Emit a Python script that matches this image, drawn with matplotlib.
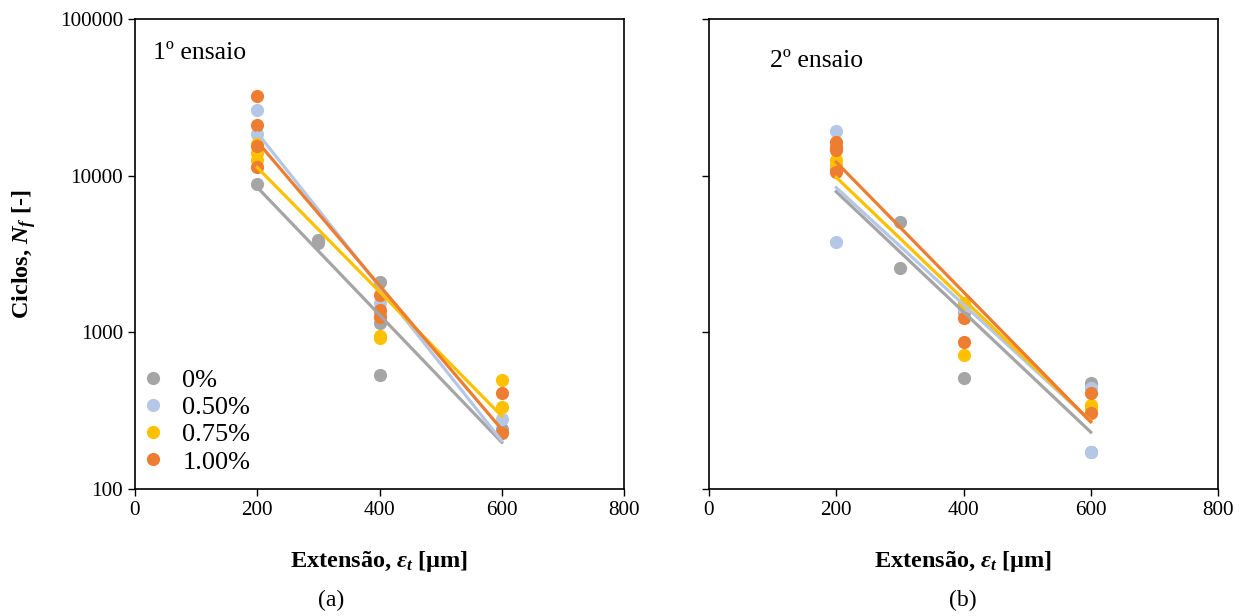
import numpy as np
import matplotlib
matplotlib.use('Agg')
from matplotlib import pyplot as plt
from matplotlib.ticker import FuncFormatter

plt.rcParams['font.family'] = 'Liberation Serif'
plt.rcParams['mathtext.fontset'] = 'custom'
plt.rcParams['mathtext.rm'] = 'Liberation Serif:bold'
plt.rcParams['mathtext.it'] = 'Liberation Serif:italic:bold'
plt.rcParams['mathtext.bf'] = 'Liberation Serif:bold'

labels = ['0%', '0.50%', '0.75%', '1.00%']
colors = ['#A5A5A5', '#B4C7E7', '#FFC000', '#ED7D31']

# 1º ensaio
a_x0 = [200, 300, 300, 400, 400, 400, 600]
a_y0 = [8860, 3890, 3700, 2100, 1150, 535, 240]
a_x1 = [200, 200, 400, 400, 600]
a_y1 = [26300, 18500, 1540, 1300, 280]
a_x2 = [200, 200, 200, 400, 400, 600, 600]
a_y2 = [16000, 14000, 12500, 950, 920, 497, 334]
a_x3 = [200, 200, 200, 200, 400, 400, 400, 600, 600]
a_y3 = [32300, 21100, 15500, 11400, 1730, 1390, 1250, 410, 228]

# 2º ensaio
b_x0 = [200, 300, 300, 400, 400, 600, 600]
b_y0 = [11000, 5070, 2580, 1350, 512, 475, 173]
b_x1 = [200, 200, 400, 600, 600]
b_y1 = [19300, 3780, 1400, 440, 173]
b_x2 = [200, 200, 400, 400, 600, 600]
b_y2 = [12600, 11700, 1540, 718, 344, 330]
b_x3 = [200, 200, 200, 200, 400, 400, 600, 600]
b_y3 = [16400, 15200, 14600, 10600, 1240, 870, 410, 306]

series_a = [(a_x0, a_y0), (a_x1, a_y1), (a_x2, a_y2), (a_x3, a_y3)]
series_b = [(b_x0, b_y0), (b_x1, b_y1), (b_x2, b_y2), (b_x3, b_y3)]

fig = plt.figure(figsize=(12.59, 6.16), dpi=100)
ax1 = fig.add_axes([135/1259, 1-489/616, (624-135)/1259, (489-19)/616])
ax2 = fig.add_axes([709/1259, 1-489/616, (1218-709)/1259, (489-19)/616])


def draw(ax, series, title, tx, ty):
    for (x, y), c, lab in zip(series, colors, labels):
        x = np.array(x, dtype=float)
        y = np.array(y, dtype=float)
        ax.plot(x, y, 'o', color=c, ms=9.5, mec='none', label=lab, zorder=3)
        # exponential trendline (Excel style)
        b, a = np.polyfit(x, np.log(y), 1)
        xs = np.array([x.min(), x.max()])
        ax.plot(xs, np.exp(a + b * xs), '-', color=c, lw=2.3, zorder=4)
    ax.set_yscale('log')
    ax.set_xlim(0, 800)
    ax.set_ylim(100, 100000)
    ax.set_xticks([0, 200, 400, 600, 800])
    ax.set_yticks([100, 1000, 10000, 100000])
    ax.minorticks_off()
    ax.yaxis.set_major_formatter(FuncFormatter(lambda v, p: '%d' % v))
    ax.tick_params(direction='out', length=5, width=1, labelsize=15.2, colors='black')
    for s in ax.spines.values():
        s.set_linewidth(1.2)
        s.set_color('black')
    ax.text(tx, ty, title, transform=ax.transAxes, fontsize=18.5, va='center')
    ax.set_xlabel(r'Extensão, $ε_t$ [µm]', fontsize=17.5, fontweight='bold', labelpad=21)


draw(ax1, series_a, '1º ensaio', 18/489, 1-(53-19)/470)
draw(ax2, series_b, '2º ensaio', 61/509, 1-(61-19)/470)
ax2.tick_params(labelleft=False)
ax1.set_ylabel(r'Ciclos, $N_f$ [-]', fontsize=17.5, fontweight='bold', labelpad=16)

ax1.legend(loc='upper left', bbox_to_anchor=(0.005, 0.256), frameon=False, fontsize=19,
           borderpad=0, borderaxespad=0, handletextpad=0.55, labelspacing=0.14,
           handlelength=1.15)

fig.text(331/1259, 1-600/616, '(a)', ha='center', va='center', fontsize=17)
fig.text(963/1259, 1-600/616, '(b)', ha='center', va='center', fontsize=17)

fig.savefig('out.png', dpi=100)
